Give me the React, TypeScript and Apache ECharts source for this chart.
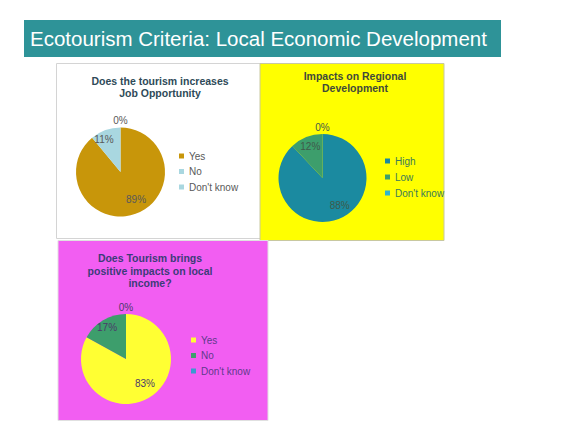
import React, { useEffect, useRef } from "react";
import * as echarts from "echarts";

const headerTitle = "Ecotourism Criteria: Local Economic Development";

const jobTitle = "Does the tourism increases\nJob Opportunity";
const jobCategories = ["Yes", "No", "Don't know"];
const jobValues = [89, 11, 0];
const jobColors = ["#c8960a", "#a9d7e0", "#a9d7e0"];

const regionalTitle = "Impacts on Regional\nDevelopment";
const regionalCategories = ["High", "Low", "Don't know"];
const regionalValues = [88, 12, 0];
const regionalColors = ["#1b8aa0", "#3d9e6c", "#2fb5cf"];

const incomeTitle = "Does Tourism brings\npositive impacts on local\nincome?";
const incomeCategories = ["Yes", "No", "Don't know"];
const incomeValues = [83, 17, 0];
const incomeColors = ["#ffff33", "#3d9e6c", "#3a9ad0"];

const FONT = "Liberation Sans";

function makeData(cats: string[], vals: number[], colors: string[], offsets: number[][]) {
  return cats.map((name, i) => ({
    name,
    value: vals[i],
    itemStyle: { color: colors[i] },
    label: { offset: offsets[i] },
  }));
}

function makePie(
  center: number[],
  radius: number,
  data: any[],
  labelColor: string
) {
  return {
    type: "pie",
    center,
    radius,
    startAngle: 90,
    clockwise: true,
    silent: true,
    itemStyle: { borderWidth: 0 },
    label: {
      show: true,
      position: "inside",
      formatter: "{c}%",
      fontFamily: FONT,
      fontSize: 10,
      color: labelColor,
    },
    labelLine: { show: false },
    labelLayout: (p: any) => {
      if (p.dataIndex === 2) {
        return {
          x: p.rect.x + p.rect.width / 2,
          y: p.rect.y - 7,
          align: "center",
          verticalAlign: "middle",
        };
      }
      return {};
    },
    data,
  };
}

function makeLegend(
  left: number,
  top: number,
  gap: number,
  cats: string[],
  colors: string[],
  textColor: string
) {
  return {
    orient: "vertical",
    left,
    top,
    selectedMode: false,
    icon: "rect",
    itemWidth: 5,
    itemHeight: 5,
    itemGap: gap,
    padding: 0,
    textStyle: { fontFamily: FONT, fontSize: 10, color: textColor },
    data: cats.map((name, i) => ({ name, icon: "rect", itemStyle: { color: colors[i] } })),
  };
}

export default function App() {
  const ref = useRef<HTMLDivElement>(null);
  useEffect(() => {
    if (!ref.current) return;
    const chart = echarts.init(ref.current, undefined, { renderer: "svg" });
    chart.setOption({
      animation: false,
      graphic: [
        { type: "rect", z: 0, shape: { x: 24, y: 20, width: 477, height: 37 }, style: { fill: "#2e9398" } },
        {
          type: "text",
          z: 1,
          x: 30,
          y: 38.5,
          style: {
            text: headerTitle,
            fill: "#ffffff",
            fontFamily: FONT,
            fontSize: 20.5,
            verticalAlign: "middle",
            align: "left",
          },
        },
        { type: "rect", z: 0, shape: { x: 56.5, y: 63.5, width: 204, height: 175 }, style: { fill: "#ffffff", stroke: "#d4d4d4", lineWidth: 1 } },
        { type: "rect", z: 0, shape: { x: 260, y: 63.5, width: 184, height: 177 }, style: { fill: "#ffff00", stroke: "#c8c8a0", lineWidth: 1 } },
        { type: "rect", z: 0, shape: { x: 58, y: 240.5, width: 210, height: 180 }, style: { fill: "#f25ef2", stroke: "#e0e0e0", lineWidth: 1 } },
        {
          type: "text",
          z: 1,
          x: 160,
          y: 75,
          style: { text: jobTitle, fill: "#2e4a58", fontFamily: FONT, fontSize: 10.5, fontWeight: "bold", align: "center", verticalAlign: "top", lineHeight: 12 },
        },
        {
          type: "text",
          z: 1,
          x: 355,
          y: 70,
          style: { text: regionalTitle, fill: "#3f4a3a", fontFamily: FONT, fontSize: 10.5, fontWeight: "bold", align: "center", verticalAlign: "top", lineHeight: 12 },
        },
        {
          type: "text",
          z: 1,
          x: 150,
          y: 252,
          style: { text: incomeTitle, fill: "#3c3c78", fontFamily: FONT, fontSize: 10.5, fontWeight: "bold", align: "center", verticalAlign: "top", lineHeight: 12.5 },
        },
      ],
      legend: [
        makeLegend(179, 151, 5.5, jobCategories, jobColors, "#595959"),
        makeLegend(385, 156, 6, regionalCategories, regionalColors, "#3a7a5a"),
        makeLegend(191, 335, 5.5, incomeCategories, incomeColors, "#603a8a"),
      ],
      series: [
        makePie([120.5, 172], 44.5, makeData(jobCategories, jobValues, jobColors, [[7, 4], [-8, -9], [0, 0]]), "#595959"),
        makePie([322.5, 178], 44, makeData(regionalCategories, regionalValues, regionalColors, [[8, 4], [-3, -8], [0, 0]]), "#3f5a4a"),
        makePie([126, 359], 45, makeData(incomeCategories, incomeValues, incomeColors, [[6, 3], [-6, -10], [0, 0]]), "#4a3a6a"),
      ],
    });
    return () => chart.dispose();
  }, []);
  return (
    <div
      ref={ref}
      style={{ position: "fixed", left: 0, top: 0, width: 568, height: 434, background: "#ffffff" }}
    />
  );
}
